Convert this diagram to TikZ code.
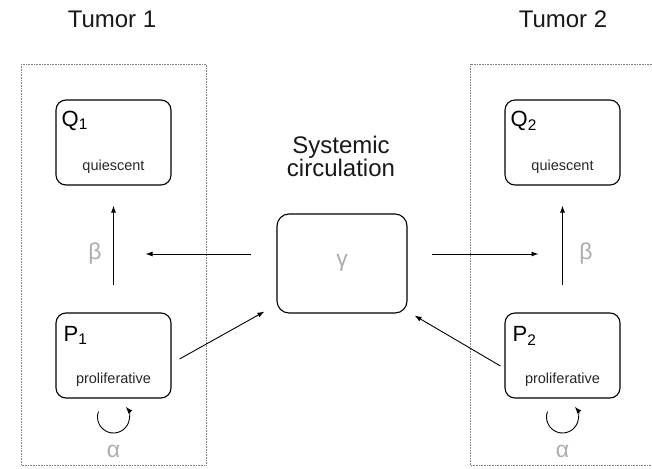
\documentclass[tikz,border=0pt]{standalone}
\usepackage{fontspec}
\setmainfont{Liberation Sans}
\usetikzlibrary{arrows.meta}
\definecolor{greek}{gray}{0.68}

\begin{document}
\begin{tikzpicture}[x=1pt, y=1pt,
    compartment/.style={draw, line width=1.1pt, rounded corners=10pt, minimum width=115pt, minimum height=85pt, inner sep=0pt},
    tumorbox/.style={draw=gray, densely dotted, line width=0.6pt},
    flow/.style={-{Latex[length=7pt, width=5pt]}, line width=0.9pt},
    rate/.style={text=greek, font=\fontsize{23}{23}\selectfont, inner sep=0pt},
    title/.style={anchor=base, inner sep=0pt, font=\fontsize{24}{24}\selectfont, text=black!90},
    statename/.style={anchor=base west, inner sep=0pt, font=\fontsize{22}{22}\selectfont},
    statekind/.style={anchor=base, inner sep=0pt, font=\fontsize{14.5}{14.5}\selectfont, text=black!85}]
  \useasboundingbox (0,0) rectangle (652,-468);
  \draw[tumorbox] (21,-64) rectangle (206,-465);
  \draw[tumorbox] (652,-64) -- (470,-64) -- (470,-465) -- (652,-465);

  \node[title] (tumor1) at (112,-28) {Tumor 1};
  \node[title] (tumor2) at (563,-28) {Tumor 2};
  \node[title] (sys) at (341,-153) {Systemic};
  \node[title] (circ) at (341,-176) {circulation};

  \node[compartment] (q1) at (113.5,-142.5) {};
  \node[compartment] (p1) at (113.5,-355.5) {};
  \node[compartment] (q2) at (562.5,-142.5) {};
  \node[compartment] (p2) at (562.5,-355.5) {};
  \node[compartment, minimum width=130pt, minimum height=99pt, rounded corners=12pt] (blood) at (342,-263.5) {};

  \node[statename] (q1name) at ([shift={(6,-27)}]q1.north west) {Q\textsubscript{1}};
  \node[statekind] (q1kind) at ([yshift=15]q1.south) {quiescent};
  \node[statename] (p1name) at ([shift={(8,-29)}]p1.north west) {P\textsubscript{1}};
  \node[statekind] (p1kind) at ([yshift=15]p1.south) {proliferative};
  \node[statename] (q2name) at ([shift={(6,-27)}]q2.north west) {Q\textsubscript{2}};
  \node[statekind] (q2kind) at ([yshift=15]q2.south) {quiescent};
  \node[statename] (p2name) at ([shift={(8,-29)}]p2.north west) {P\textsubscript{2}};
  \node[statekind] (p2kind) at ([yshift=15]p2.south) {proliferative};
  \node[rate] (gamma) at (342,-263) {γ};

  \coordinate (beta1) at (113.5,-254);
  \coordinate (beta2) at (562.5,-254);
  \draw[flow, shorten <=27pt, shorten >=20pt] (p1) -- (q1);
  \draw[flow, shorten <=27pt, shorten >=20pt] (p2) -- (q2);
  \draw[flow, shorten <=25pt, shorten >=32pt] (blood.west |- beta1) -- (beta1);
  \draw[flow, shorten <=24pt, shorten >=24pt] (blood.east |- beta2) -- (beta2);
  \draw[flow] ([shift={(8,-3.5)}]p1.east) -- ([shift={(-12,2)}]blood.south west);
  \draw[flow] ([shift={(-4,-10.5)}]p2.west) -- ([shift={(7,-2)}]blood.south east);
  \node[rate] (beta1label) at (95,-254) {β};
  \node[rate] (beta2label) at (586,-254) {β};

  \coordinate (loop1) at (113.5,-417);
  \coordinate (loop2) at (562.5,-417);
  \draw[flow] ([shift={(160:16)}]loop1) arc[start angle=160, end angle=400, radius=16];
  \draw[flow] ([shift={(160:16)}]loop2) arc[start angle=160, end angle=400, radius=16];
  \node[rate] (alpha1) at (113.5,-451) {α};
  \node[rate] (alpha2) at (562.5,-451) {α};
\end{tikzpicture}
\end{document}
